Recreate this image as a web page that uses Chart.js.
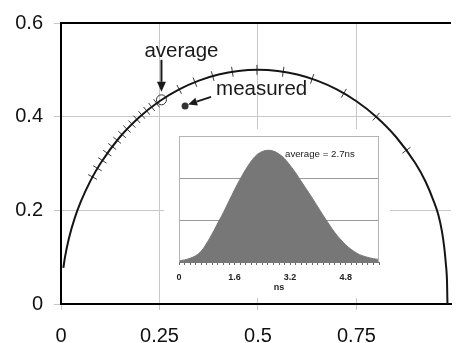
<!DOCTYPE html>
<html>
<head>
<meta charset="utf-8">
<script src="https://cdn.jsdelivr.net/npm/chart.js@4.4.1/dist/chart.umd.min.js"></script>
<style>
  html, body { margin: 0; padding: 0; background: #fff; }
  #wrap { position: relative; width: 457px; height: 343px; overflow: hidden; background: #fff; }
  #main { position: absolute; left: 0; top: 0; }
  #insetBox { position: absolute; left: 164px; top: 129px; width: 226px; height: 169px; }
  #inset { display: block; }
</style>
</head>
<body>
<div id="wrap">
  <canvas id="main" width="457" height="343"></canvas>
  <div id="insetBox"><canvas id="inset" width="226" height="169"></canvas></div>
</div>
<script>
// ---- main phasor plot data ----
const circleX = [0.006, 0.01, 0.02, 0.035, 0.05, 0.075, 0.1, 0.15, 0.2, 0.25, 0.3, 0.35, 0.4, 0.45, 0.5,
                 0.55, 0.6, 0.65, 0.7, 0.75, 0.8, 0.85, 0.9, 0.925, 0.945, 0.958, 0.967, 0.973, 0.977, 0.98, 0.981];
const circleY = [0.0772, 0.0995, 0.14, 0.1838, 0.2179, 0.2634, 0.3, 0.3571, 0.4, 0.433, 0.4583, 0.477, 0.4899, 0.4975, 0.5,
                 0.4975, 0.4899, 0.477, 0.4583, 0.433, 0.4, 0.3571, 0.30, 0.262, 0.222, 0.19, 0.155, 0.12, 0.085, 0.045, 0.0];
const markerX = [0.08, 0.0925, 0.105, 0.1175, 0.13, 0.1425, 0.155, 0.1675, 0.18, 0.1925, 0.205, 0.2175, 0.23, 0.2425,
                 0.30, 0.34, 0.385, 0.435, 0.4975, 0.564, 0.6375, 0.718, 0.80, 0.877];
const markerY = [0.2713, 0.2897, 0.3066, 0.322, 0.3363, 0.3496, 0.3619, 0.3734, 0.3842, 0.3943, 0.4037, 0.4125, 0.4208, 0.4286,
                 0.4583, 0.4737, 0.4866, 0.4958, 0.5, 0.4959, 0.4807, 0.45, 0.4, 0.3284];
const averagePoint = [0.255, 0.436];
const measuredPoint = [0.315, 0.423];
const xTickValues = [0, 0.25, 0.5, 0.75];
const xTickLabels = ['0', '0.25', '0.5', '0.75'];
const yTickValues = [0, 0.2, 0.4, 0.6];
const yTickLabels = ['0', '0.2', '0.4', '0.6'];
const averageLabel = 'average';
const measuredLabel = 'measured';

// ---- inset lifetime distribution data ----
const insetBins = ['0', '0.16', '0.32', '0.48', '0.64', '0.8', '0.96', '1.12', '1.28', '1.44', '1.6', '1.76', '1.92',
                   '2.08', '2.24', '2.4', '2.56', '2.72', '2.88', '3.04', '3.2', '3.36', '3.52', '3.68', '3.84', '4',
                   '4.16', '4.32', '4.48', '4.64', '4.8', '4.96', '5.12', '5.28', '5.44', '5.6', '5.76'];
const insetValues = [0.03, 0.05, 0.09, 0.15, 0.26, 0.45, 0.68, 0.93, 1.18, 1.45, 1.72, 1.97, 2.20,
                     2.40, 2.55, 2.63, 2.66, 2.64, 2.57, 2.46, 2.30, 2.12, 1.92, 1.72, 1.52, 1.31,
                     1.10, 0.90, 0.71, 0.55, 0.41, 0.30, 0.21, 0.15, 0.11, 0.08, 0.06];
const insetTickLabels = ['0', '1.6', '3.2', '4.8'];
const insetTitle = 'ns';
const insetNote = 'average = 2.7ns';

const FONT = "'Liberation Sans', Arial, sans-serif";
// white panel behind the inset (page pixels), hides the main grid there
const INSET_PANEL = { left: 164, top: 129, width: 226, height: 169 };

function arrow(ctx, x1, y1, x2, y2, headLen, headW) {
  const ang = Math.atan2(y2 - y1, x2 - x1);
  const bx = x2 - Math.cos(ang) * headLen, by = y2 - Math.sin(ang) * headLen;
  ctx.beginPath();
  ctx.moveTo(x1, y1);
  ctx.lineTo(bx, by);
  ctx.stroke();
  ctx.beginPath();
  ctx.moveTo(x2, y2);
  ctx.lineTo(bx + Math.sin(ang) * headW, by - Math.cos(ang) * headW);
  ctx.lineTo(bx - Math.sin(ang) * headW, by + Math.cos(ang) * headW);
  ctx.closePath();
  ctx.fill();
}

const mainDecor = {
  id: 'mainDecor',
  beforeDatasetsDraw(chart) {
    const ctx = chart.ctx;
    ctx.save();
    ctx.fillStyle = '#fff';
    ctx.fillRect(INSET_PANEL.left, INSET_PANEL.top, INSET_PANEL.width, INSET_PANEL.height);
    ctx.restore();
  },
  afterDatasetsDraw(chart) {
    const { ctx, chartArea, scales } = chart;
    ctx.save();
    ctx.strokeStyle = '#000';
    ctx.lineWidth = 2;
    ctx.beginPath();
    ctx.moveTo(chartArea.left - 1, chartArea.top);
    ctx.lineTo(chartArea.right, chartArea.top);
    ctx.stroke();
    const ax = scales.x.getPixelForValue(averagePoint[0]);
    const ay = scales.y.getPixelForValue(averagePoint[1]);
    const mx = scales.x.getPixelForValue(measuredPoint[0]);
    const my = scales.y.getPixelForValue(measuredPoint[1]);
    ctx.fillStyle = '#1a1a1a';
    ctx.strokeStyle = '#1a1a1a';
    ctx.lineWidth = 2;
    arrow(ctx, ax, ay - 40, ax, ay - 8, 10, 4.5);
    arrow(ctx, mx + 26, my - 9, mx + 3, my - 1.5, 9, 4);
    ctx.font = '20.5px ' + FONT;
    ctx.textBaseline = 'alphabetic';
    ctx.textAlign = 'center';
    ctx.fillText(averageLabel, ax + 20, ay - 43);
    ctx.textAlign = 'left';
    ctx.fillText(measuredLabel, mx + 31, my - 11);
    ctx.restore();
  }
};

function normalRotation(c) {
  const chart = c.chart;
  const raw = c.raw;
  if (!raw || !chart.scales || !chart.scales.x) return 0;
  const xs = chart.scales.x, ys = chart.scales.y;
  const px = xs.getPixelForValue(raw.x), py = ys.getPixelForValue(raw.y);
  const cx = xs.getPixelForValue(0.5), cy = ys.getPixelForValue(0);
  const a = cx - xs.getPixelForValue(0);
  const b = cy - ys.getPixelForValue(0.5);
  const nx = (px - cx) / (a * a), ny = (py - cy) / (b * b);
  return Math.atan2(ny, nx) * 180 / Math.PI;
}

new Chart(document.getElementById('main'), {
  type: 'scatter',
  data: {
    datasets: [
      {
        data: circleX.map((x, i) => ({ x, y: circleY[i] })),
        showLine: true,
        borderColor: '#151515',
        borderWidth: 2,
        pointRadius: 0,
        cubicInterpolationMode: 'monotone'
      },
      {
        data: markerX.map((x, i) => ({ x, y: markerY[i] })),
        showLine: false,
        pointStyle: 'line',
        pointRadius: 5,
        borderColor: '#3a3a3a',
        borderWidth: 1,
        pointRotation: normalRotation
      },
      {
        data: [{ x: averagePoint[0], y: averagePoint[1] }],
        pointStyle: 'circle',
        pointRadius: 5,
        pointBackgroundColor: 'rgba(0,0,0,0)',
        pointBorderColor: '#333',
        pointBorderWidth: 1
      },
      {
        data: [{ x: measuredPoint[0], y: measuredPoint[1] }],
        pointStyle: 'circle',
        pointRadius: 3.5,
        pointBackgroundColor: '#333',
        pointBorderColor: '#333',
        pointBorderWidth: 0
      }
    ]
  },
  options: {
    responsive: false,
    animation: false,
    devicePixelRatio: 1,
    layout: { padding: { top: 19, right: 0, left: 0, bottom: 0 } },
    plugins: { legend: { display: false }, tooltip: { enabled: false } },
    scales: {
      x: {
        type: 'linear', min: 0, max: 0.99,
        afterBuildTicks: s => { s.ticks = xTickValues.map(v => ({ value: v })); },
        afterFit: s => { s.height = 39; },
        ticks: {
          callback: (v) => { const i = xTickValues.indexOf(v); return i >= 0 ? xTickLabels[i] : ''; },
          font: { family: FONT, size: 20 }, color: '#111', padding: 14, maxRotation: 0
        },
        grid: { color: '#c8c8c8', lineWidth: 1, tickLength: 6 },
        border: { color: '#000', width: 2 }
      },
      y: {
        type: 'linear', min: 0, max: 0.6,
        afterBuildTicks: s => { s.ticks = yTickValues.map(v => ({ value: v })); },
        afterFit: s => { s.width = 61; },
        ticks: {
          callback: (v) => { const i = yTickValues.indexOf(v); return i >= 0 ? yTickLabels[i] : ''; },
          font: { family: FONT, size: 20 }, color: '#111', padding: 11
        },
        grid: { color: '#c8c8c8', lineWidth: 1, tickLength: 7 },
        border: { color: '#000', width: 2 }
      }
    }
  },
  plugins: [mainDecor]
});

const insetDecor = {
  id: 'insetDecor',
  afterDraw(chart) {
    const { ctx, chartArea } = chart;
    ctx.save();
    ctx.strokeStyle = '#b4b4b4';
    ctx.lineWidth = 1;
    ctx.beginPath();
    ctx.moveTo(chartArea.left + 0.5, chartArea.bottom);
    ctx.lineTo(chartArea.left + 0.5, chartArea.top + 0.5);
    ctx.lineTo(chartArea.right - 0.5, chartArea.top + 0.5);
    ctx.lineTo(chartArea.right - 0.5, chartArea.bottom);
    ctx.stroke();
    ctx.fillStyle = '#222';
    ctx.font = '9.7px ' + FONT;
    ctx.textBaseline = 'middle';
    ctx.textAlign = 'left';
    ctx.fillText(insetNote, chartArea.left + 106, chartArea.top + 18);
    ctx.restore();
  }
};

new Chart(document.getElementById('inset'), {
  type: 'line',
  data: {
    labels: insetBins,
    datasets: [{
      data: insetValues,
      fill: 'origin',
      backgroundColor: '#777777',
      borderColor: '#777777',
      borderWidth: 1,
      pointRadius: 0,
      tension: 0.4
    }]
  },
  options: {
    responsive: false,
    animation: false,
    devicePixelRatio: 1,
    layout: { padding: { top: 7, right: 11, left: 15, bottom: 0 } },
    plugins: { legend: { display: false }, tooltip: { enabled: false } },
    scales: {
      x: {
        type: 'category', offset: false,
        afterFit: s => { s.height = 36; },
        ticks: {
          autoSkip: false, maxRotation: 0, minRotation: 0,
          callback: (v, i) => (i % 10 === 0 ? insetTickLabels[i / 10] : ''),
          font: { family: FONT, size: 9, weight: 'bold' }, color: '#222', padding: 7
        },
        grid: { drawOnChartArea: false, drawTicks: true, tickLength: 3, color: '#666' },
        border: { color: '#777', width: 1 },
        title: { display: true, text: insetTitle, font: { family: FONT, size: 9, weight: 'bold' }, color: '#222', padding: { top: 1, bottom: 5 } }
      },
      y: {
        min: 0, max: 3,
        afterFit: s => { s.width = 0; },
        ticks: { display: false, stepSize: 1 },
        grid: { color: '#9a9a9a', drawTicks: false, lineWidth: 1 },
        border: { display: false }
      }
    }
  },
  plugins: [insetDecor]
});
</script>
</body>
</html>
